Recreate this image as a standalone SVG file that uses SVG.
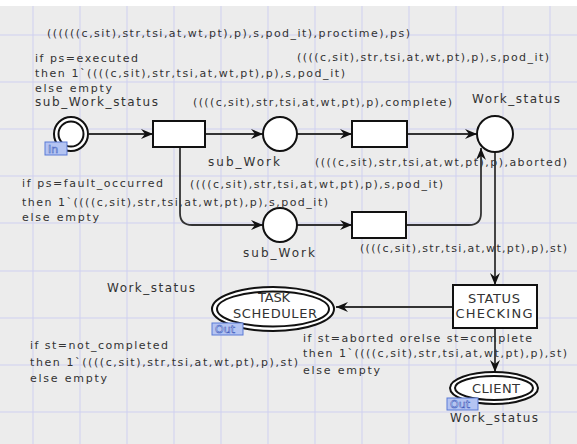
<svg xmlns="http://www.w3.org/2000/svg" width="577" height="444" viewBox="0 0 577 444">
<style>
.t{font-family:"DejaVu Sans",Verdana,sans-serif;font-size:11px;fill:#333}
.lb{font-family:"DejaVu Sans",Verdana,sans-serif;font-size:12px;fill:#333}
.nl{font-family:"DejaVu Sans",Verdana,sans-serif;font-size:13px;fill:#333;text-anchor:middle}
.g{stroke:#cfd0f0;stroke-width:1}
.node{fill:#fff;stroke:#111;stroke-width:2}
.arc{fill:none;stroke:#333;stroke-width:1.8;marker-end:url(#ah)}
.tag{fill:#b4c4f2;stroke:#5a7ad6;stroke-width:1}
.tagt{font-family:"DejaVu Sans",Verdana,sans-serif;font-size:11px;fill:#f4f6ff;stroke:#3f5fc0;stroke-width:0.6}
</style>
<defs>
<marker id="ah" viewBox="0 0 12 10" markerWidth="12" markerHeight="10" refX="12" refY="5" orient="auto" markerUnits="userSpaceOnUse">
<path d="M0,0 L12,5 L0,10 L4,5 Z" fill="#111"/>
</marker>
</defs>
<rect x="0" y="0" width="577" height="444" fill="#fff"/>
<rect x="0" y="6" width="577" height="438" fill="#ececec"/>
<g id="grid">
<path class="g" d="M33,6V444M80,6V444M127,6V444M174,6V444M221,6V444M268,6V444M315,6V444M362,6V444M409,6V444M456,6V444M503,6V444M550,6V444"/>
<path class="g" d="M0,35H577M0,82H577M0,129H577M0,176H577M0,223H577M0,271H577M0,318H577M0,365H577M0,412H577"/>
</g>
<g id="connectors">
<path class="arc" d="M89,134 H153"/>
<path class="arc" d="M205,134 H263"/>
<path class="arc" d="M297,134 H352"/>
<path class="arc" d="M407,134 H477"/>
<path class="arc" d="M180,147 V213 Q180,225 192,225 H263"/>
<path class="arc" d="M297,225 H352"/>
<path class="arc" d="M406,225 H469 Q481,225 481,213 V148"/>
<path class="arc" d="M495,152 V285"/>
<path class="arc" d="M453,307 H336"/>
<path class="arc" d="M495,328 V372"/>
</g>
<g id="in_place">
<circle class="node" cx="71" cy="134" r="17"/>
<circle class="node" cx="71" cy="134" r="12.5"/>
<rect class="tag" x="45" y="142" width="22" height="13"/>
<text class="tagt" x="48" y="153">In</text>
<text class="lb" x="35" y="106" textLength="123" lengthAdjust="spacing">sub_Work_status</text>
</g>
<g id="t1"><rect class="node" x="153" y="121" width="52" height="26"/></g>
<g id="sub_work1">
<circle class="node" cx="280" cy="134" r="17"/>
<text class="lb" x="208" y="166" textLength="72" lengthAdjust="spacing">sub_Work</text>
</g>
<g id="t2"><rect class="node" x="352" y="121" width="55" height="26"/></g>
<g id="work_status">
<circle class="node" cx="495" cy="134" r="18"/>
<text class="lb" x="472" y="103" textLength="88" lengthAdjust="spacing">Work_status</text>
</g>
<g id="sub_work2">
<circle class="node" cx="280" cy="225" r="17"/>
<text class="lb" x="243" y="257" textLength="72" lengthAdjust="spacing">sub_Work</text>
</g>
<g id="t3"><rect class="node" x="352" y="212" width="54" height="26"/></g>
<g id="task_scheduler">
<ellipse class="node" cx="273" cy="309" rx="61" ry="22"/>
<ellipse class="node" cx="273" cy="309" rx="56" ry="17.5"/>
<text class="nl" x="274" y="302" textLength="32" lengthAdjust="spacing">TASK</text>
<text class="nl" x="275" y="318" textLength="84" lengthAdjust="spacing">SCHEDULER</text>
<rect class="tag" x="212" y="323" width="31" height="12"/>
<text class="tagt" x="215" y="333">Out</text>
<text class="lb" x="107" y="292" textLength="88" lengthAdjust="spacing">Work_status</text>
</g>
<g id="status_checking">
<rect class="node" x="453" y="285" width="84" height="43"/>
<text class="nl" x="494" y="303" textLength="52" lengthAdjust="spacing">STATUS</text>
<text class="nl" x="494" y="318" textLength="77" lengthAdjust="spacing">CHECKING</text>
</g>
<g id="client">
<ellipse class="node" cx="494" cy="388" rx="44" ry="16"/>
<ellipse class="node" cx="494" cy="388" rx="39" ry="12"/>
<text class="nl" x="496" y="393" textLength="48" lengthAdjust="spacing">CLIENT</text>
<rect class="tag" x="447" y="398" width="31" height="12"/>
<text class="tagt" x="450" y="408">Out</text>
<text class="lb" x="450" y="422" textLength="88" lengthAdjust="spacing">Work_status</text>
</g>
<g id="inscriptions">
<text class="t" x="47" y="37" textLength="363" lengthAdjust="spacing">((((((c,sit),str,tsi,at,wt,pt),p),s,pod_it),proctime),ps)</text>
<text class="t" x="35" y="62" textLength="103" lengthAdjust="spacing">if ps=executed</text>
<text class="t" x="297" y="61" textLength="252" lengthAdjust="spacing">((((c,sit),str,tsi,at,wt,pt),p),s,pod_it)</text>
<text class="t" x="35" y="77" textLength="310" lengthAdjust="spacing">then 1`((((c,sit),str,tsi,at,wt,pt),p),s,pod_it)</text>
<text class="t" x="35" y="92" textLength="77" lengthAdjust="spacing">else empty</text>
<text class="t" x="193" y="106" textLength="259" lengthAdjust="spacing">((((c,sit),str,tsi,at,wt,pt),p),complete)</text>
<text class="t" x="315" y="166" textLength="252" lengthAdjust="spacing">((((c,sit),str,tsi,at,wt,pt),p),aborted)</text>
<text class="t" x="22" y="187" textLength="141" lengthAdjust="spacing">if ps=fault_occurred</text>
<text class="t" x="190" y="188" textLength="253" lengthAdjust="spacing">((((c,sit),str,tsi,at,wt,pt),p),s,pod_it)</text>
<text class="t" x="22" y="206" textLength="306" lengthAdjust="spacing">then 1`((((c,sit),str,tsi,at,wt,pt),p),s,pod_it)</text>
<text class="t" x="22" y="221" textLength="77" lengthAdjust="spacing">else empty</text>
<text class="t" x="360" y="252" textLength="207" lengthAdjust="spacing">((((c,sit),str,tsi,at,wt,pt),p),st)</text>
<text class="t" x="30" y="349" textLength="138" lengthAdjust="spacing">if st=not_completed</text>
<text class="t" x="30" y="366" textLength="268" lengthAdjust="spacing">then 1`((((c,sit),str,tsi,at,wt,pt),p),st)</text>
<text class="t" x="30" y="382" textLength="77" lengthAdjust="spacing">else empty</text>
<text class="t" x="303" y="342" textLength="229" lengthAdjust="spacing">if st=aborted orelse st=complete</text>
<text class="t" x="303" y="357" textLength="264" lengthAdjust="spacing">then 1`((((c,sit),str,tsi,at,wt,pt),p),st)</text>
<text class="t" x="303" y="374" textLength="77" lengthAdjust="spacing">else empty</text>
</g>
</svg>
